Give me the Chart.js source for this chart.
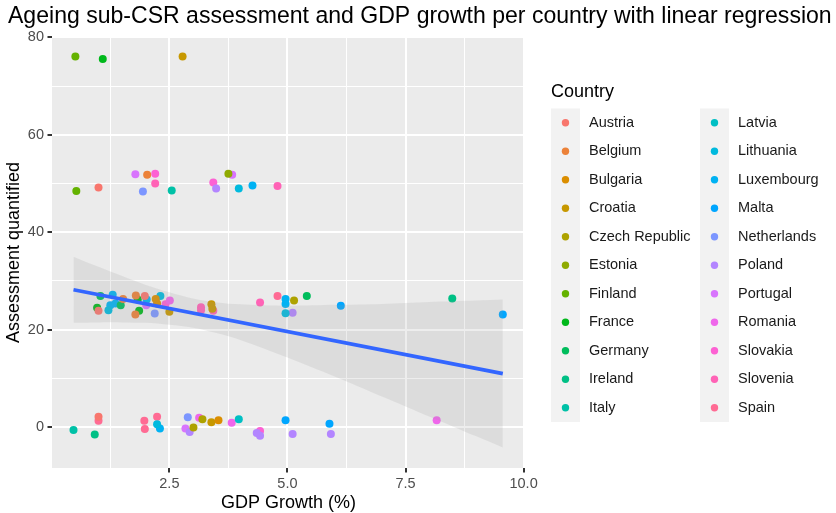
<!DOCTYPE html>
<html>
<head>
<meta charset="utf-8">
<script src="https://cdn.jsdelivr.net/npm/chart.js@4/dist/chart.umd.min.js"></script>
<style>
  html, body { margin: 0; padding: 0; background: #ffffff; }
  #wrap { width: 836px; height: 513px; }
</style>
</head>
<body>
<div id="wrap"><canvas id="chart" width="836" height="513"></canvas></div>
<script>
// ---- data ----
const countries = ['Austria','Belgium','Bulgaria','Croatia','Czech Republic','Estonia','Finland','France','Germany','Ireland','Italy',
                   'Latvia','Lithuania','Luxembourg','Malta','Netherlands','Poland','Portugal','Romania','Slovakia','Slovenia','Spain'];

// GDP growth (%) per observation, one list per country (same order as countries)
const gdpGrowth = [
  [1.00, 1.00, 1.00, 1.98],
  [2.03, 1.79, 1.78, 1.52],
  [2.21, 2.24, 3.54],
  [2.78, 2.50, 3.39, 3.41, 3.39],
  [5.14, 3.20, 3.01],
  [3.75],
  [0.51, 0.53],
  [1.09, 0.97, 1.83, 1.86],
  [1.04, 1.47, 5.41],
  [8.49, 0.92],
  [2.55, 0.47],
  [3.97],
  [3.97, 1.21, 2.31, 4.96, 2.24],
  [4.26, 1.30, 1.25, 1.36, 4.96, 4.96, 2.30, 2.02],
  [6.13, 4.96, 5.89, 9.56],
  [1.94, 2.19, 2.89],
  [5.11, 2.93, 4.35, 4.42, 5.11, 5.92, 3.49],
  [1.78, 3.83, 2.01, 2.84],
  [2.51, 3.13, 3.82, 8.16],
  [2.20, 3.43, 2.42, 4.42],
  [2.20, 3.17, 3.17, 3.43, 4.42, 4.79],
  [4.79, 1.00, 1.97, 1.98, 2.24]
];

// Assessment quantified per observation
const assessment = [
  [49.2, 23.9, 2.1, 26.9],
  [51.8, 27.0, 23.1, 26.3],
  [26.3, 25.4, 1.4],
  [76.1, 23.7, 25.2, 24.3, 1.0],
  [26.0, 1.6, -0.1],
  [52.0],
  [76.1, 48.5],
  [75.6, 24.5, 26.2, 23.9],
  [26.9, 25.0, 26.9],
  [26.4, -1.5],
  [48.6, -0.6],
  [1.6],
  [49.0, 24.0, 26.9, 23.4, 0.6],
  [49.6, 27.2, 25.0, 25.4, 26.3, 25.3, -0.3, 26.2],
  [24.9, 1.4, 0.7, 23.1],
  [48.4, 23.3, 2.0],
  [23.5, -1.0, -1.2, -1.8, -1.4, -1.4, 49.0],
  [51.9, 51.8, 25.0, -0.3],
  [26.0, 1.9, 0.9, 1.4],
  [52.0, 50.2, 25.2, -0.8],
  [50.0, 24.6, 24.0, 23.9, 25.6, 49.5],
  [26.9, 1.3, 1.3, -0.4, 2.1]
];

// linear fit and its confidence band
const fitX = [0.47, 9.56];
const fitY = [28.2, 11.0];
const bandX     = [0.47, 1.0, 1.5, 2.0, 2.5, 3.0, 3.5, 4.0, 5.0, 6.0, 7.0, 8.0, 9.0, 9.56];
const bandUpper = [35.0, 32.9, 31.0, 29.2, 27.7, 26.4, 25.6, 25.2, 24.9, 25.1, 25.3, 25.7, 26.0, 26.2];
const bandLower = [21.4, 21.5, 21.5, 21.4, 21.0, 20.4, 19.3, 17.9, 14.3, 10.4, 6.3, 2.2, -1.9, -4.2];

// axes
const xGridTicks = [1.25, 2.5, 3.75, 5, 6.25, 7.5, 8.75, 10];
const xMajorTicks = [2.5, 5, 7.5, 10];
const xTickLabels = ['2.5', '5.0', '7.5', '10.0'];
const yGridTicks = [0, 10, 20, 30, 40, 50, 60, 70, 80];
const yMajorTicks = [0, 20, 40, 60, 80];
const yTickLabels = ['0', '20', '40', '60', '80'];

const titleText = 'Ageing sub-CSR assessment and GDP growth per country with linear regression';
const xTitle = 'GDP Growth (%)';
const yTitle = 'Assessment quantified';
const legendTitle = 'Country';

// ---- colours: evenly spaced HCL hues (l = 65, c = 100) ----
function hclToHex(h, c, l) {
  const hr = h * Math.PI / 180;
  const U = c * Math.cos(hr), V = c * Math.sin(hr);
  const Xn = 95.047, Yn = 100, Zn = 108.883;
  const Y = Yn * Math.pow((l + 16) / 116, 3);
  const den = Xn + 15 * Yn + 3 * Zn;
  const un = 4 * Xn / den, vn = 9 * Yn / den;
  const u = U / (13 * l) + un, v = V / (13 * l) + vn;
  const X = 9 * Y * u / (4 * v);
  const Z = Y * (12 - 3 * u - 20 * v) / (4 * v);
  const x = X / 100, y = Y / 100, z = Z / 100;
  let r = 3.240479 * x - 1.537150 * y - 0.498535 * z;
  let g = -0.969256 * x + 1.875992 * y + 0.041556 * z;
  let b = 0.055648 * x - 0.204043 * y + 1.057311 * z;
  const gam = t => t <= 0.0031308 ? 12.92 * t : 1.055 * Math.pow(t, 1 / 2.4) - 0.055;
  const to = t => Math.round(Math.min(1, Math.max(0, gam(t))) * 255).toString(16).padStart(2, '0');
  return '#' + to(r) + to(g) + to(b);
}
const palette = countries.map((_, i) => hclToHex(15 + i * 360 / countries.length, 100, 65));

// ---- datasets ----
const pointSets = countries.map((name, i) => ({
  type: 'scatter',
  label: name,
  data: gdpGrowth[i].map((gx, k) => ({ x: gx, y: assessment[i][k] })),
  backgroundColor: palette[i],
  borderWidth: 0,
  pointRadius: 4,
  pointHoverRadius: 4,
  order: 3
}));

const bandUpperSet = {
  type: 'line',
  label: 'band-upper',
  data: bandX.map((bx, k) => ({ x: bx, y: bandUpper[k] })),
  borderWidth: 0,
  borderColor: 'rgba(0,0,0,0)',
  backgroundColor: 'rgba(153,153,153,0.18)',
  pointRadius: 0,
  fill: '+1',
  tension: 0.3,
  order: 2
};
const bandLowerSet = {
  type: 'line',
  label: 'band-lower',
  data: bandX.map((bx, k) => ({ x: bx, y: bandLower[k] })),
  borderWidth: 0,
  borderColor: 'rgba(0,0,0,0)',
  pointRadius: 0,
  fill: false,
  tension: 0.3,
  order: 2
};
const fitSet = {
  type: 'line',
  label: 'fit',
  data: fitX.map((fx, k) => ({ x: fx, y: fitY[k] })),
  borderColor: '#3366FF',
  borderWidth: 3.8,
  pointRadius: 0,
  fill: false,
  order: 1
};

// ---- layout ----
const AREA = { left: 52, top: 37, right: 525, bottom: 468 };
const FONT = '"Liberation Sans", Arial, Helvetica, sans-serif';

const ggDecor = {
  id: 'ggDecor',
  beforeDraw(chart) {
    const { ctx, chartArea: a } = chart;
    ctx.save();
    ctx.fillStyle = '#EBEBEB';
    ctx.fillRect(a.left, a.top, a.right - a.left, a.bottom - a.top);
    ctx.restore();
  },
  afterDraw(chart) {
    const { ctx, chartArea: a } = chart;
    ctx.save();
    // title, stretched across the top
    ctx.fillStyle = '#000000';
    ctx.textBaseline = 'middle';
    ctx.textAlign = 'left';
    ctx.font = '22px ' + FONT;
    const w = ctx.measureText(titleText).width;
    const size = 22 * 824 / w;
    ctx.font = size.toFixed(2) + 'px ' + FONT;
    ctx.fillText(titleText, 8, 17);

    // axis titles
    ctx.font = '18px ' + FONT;
    ctx.textAlign = 'center';
    ctx.fillText(xTitle, (a.left + a.right) / 2, 503);
    ctx.save();
    ctx.translate(14, (a.top + a.bottom) / 2);
    ctx.rotate(-Math.PI / 2);
    ctx.fillText(yTitle, 0, 0);
    ctx.restore();

    // legend
    ctx.textAlign = 'left';
    ctx.font = '18px ' + FONT;
    ctx.fillText(legendTitle, 551, 92);
    const rows = 11, rowH = 28.5, top = 108.5;
    const cols = [{ keyX: 551, textX: 589 }, { keyX: 700, textX: 738 }];
    ctx.font = '14.5px ' + FONT;
    cols.forEach((c, ci) => {
      ctx.fillStyle = '#F2F2F2';
      ctx.fillRect(c.keyX, top, 29, rows * rowH);
    });
    countries.forEach((name, i) => {
      const c = cols[Math.floor(i / rows)];
      const r = i % rows;
      const cy = top + rowH * (r + 0.5);
      ctx.fillStyle = palette[i];
      ctx.beginPath();
      ctx.arc(c.keyX + 14.5, cy, 3.7, 0, Math.PI * 2);
      ctx.fill();
      ctx.fillStyle = '#1A1A1A';
      ctx.fillText(name, c.textX, cy);
    });
    ctx.restore();
  }
};

new Chart(document.getElementById('chart'), {
  type: 'scatter',
  data: { datasets: [bandUpperSet, bandLowerSet, fitSet, ...pointSets] },
  options: {
    responsive: false,
    animation: false,
    devicePixelRatio: 1,
    layout: { padding: { left: 0, top: AREA.top, right: 836 - AREA.right, bottom: 0 } },
    plugins: { legend: { display: false }, tooltip: { enabled: false }, title: { display: false } },
    scales: {
      x: {
        type: 'linear',
        min: 0.015,
        max: 10.03,
        afterBuildTicks: s => { s.ticks = xGridTicks.map(v => ({ value: v })); },
        afterFit: s => { s.height = 513 - AREA.bottom; },
        border: { display: false },
        grid: {
          color: '#FFFFFF',
          lineWidth: c => xMajorTicks.includes(c.tick.value) ? 2 : 1,
          tickColor: c => xMajorTicks.includes(c.tick.value) ? '#333333' : 'rgba(0,0,0,0)',
          tickLength: 4.5,
          tickWidth: 2
        },
        ticks: {
          autoSkip: false,
          maxRotation: 0,
          padding: 3,
          color: '#4D4D4D',
          font: { family: FONT, size: 14.5 },
          callback: v => { const k = xMajorTicks.indexOf(v); return k >= 0 ? xTickLabels[k] : ''; }
        }
      },
      y: {
        type: 'linear',
        min: -8.4,
        max: 80.1,
        afterBuildTicks: s => { s.ticks = yGridTicks.map(v => ({ value: v })); },
        afterFit: s => { s.width = AREA.left; },
        border: { display: false },
        grid: {
          color: '#FFFFFF',
          lineWidth: c => yMajorTicks.includes(c.tick.value) ? 2 : 1,
          tickColor: c => yMajorTicks.includes(c.tick.value) ? '#333333' : 'rgba(0,0,0,0)',
          tickLength: 4.5,
          tickWidth: 2
        },
        ticks: {
          autoSkip: false,
          padding: 3.5,
          color: '#4D4D4D',
          font: { family: FONT, size: 14.5 },
          callback: v => { const k = yMajorTicks.indexOf(v); return k >= 0 ? yTickLabels[k] : ''; }
        }
      }
    }
  },
  plugins: [ggDecor]
});
</script>
</body>
</html>
